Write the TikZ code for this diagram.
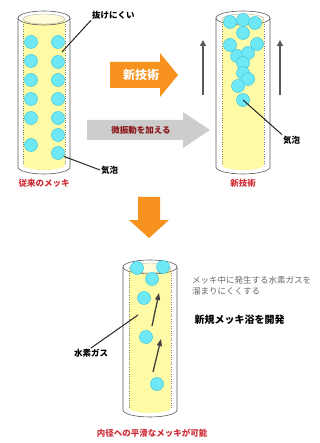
\documentclass[tikz,border=0pt]{standalone}
\usepackage{fontspec}
\setmainfont{Noto Sans CJK JP}
\usetikzlibrary{arrows.meta}

\definecolor{plating}{RGB}{255,250,165}
\definecolor{platingtop}{RGB}{255,252,215}
\definecolor{bubblefill}{RGB}{110,232,245}
\definecolor{bubbleedge}{RGB}{60,200,225}
\definecolor{techorange}{RGB}{247,146,30}
\definecolor{shakegray}{RGB}{205,205,205}
\definecolor{capred}{RGB}{205,45,55}
\definecolor{darkred}{RGB}{140,25,30}

% glass tube with plating liquid: centre x, top y, bottom y, outer and inner half width
\newcommand{\drawtube}[5]{%
  \fill[white] (#1-#4,#2) -- (#1-#4,#3) arc[start angle=180,end angle=0,x radius=#4,y radius=7] -- (#1+#4,#2) -- cycle;
  \fill[plating] (#1-#5,#2) -- (#1-#5,#3-2) arc[start angle=180,end angle=0,x radius=#5,y radius=5] -- (#1+#5,#2) -- cycle;
  \fill[platingtop] (#1,#2+1) ellipse[x radius=#5,y radius=5];
  \draw[gray!60] (#1,#2+1) ellipse[x radius=#5,y radius=5];
  \draw[dotted,gray] (#1-#5,#2+6) -- (#1-#5,#3-2) (#1+#5,#2+6) -- (#1+#5,#3-2);
  \draw[tubeedge] (#1-#4,#2) -- (#1-#4,#3) arc[start angle=180,end angle=0,x radius=#4,y radius=7] -- (#1+#4,#2);
  \draw[tubeedge] (#1,#2) ellipse[x radius=#4,y radius=7];
}

\begin{document}
\begin{tikzpicture}[x=1pt,y=-1pt,
  tubeedge/.style={draw=black!65,line width=0.6pt},
  bubble/.style={circle,fill=bubblefill,draw=bubbleedge,line width=0.5pt,minimum size=13pt,inner sep=0pt},
  note/.style={font=\fontsize{8.5}{11}\selectfont,inner sep=1pt},
  tag/.style={note,font=\fontsize{8.5}{11}\selectfont\bfseries},
  caption/.style={font=\fontsize{8.5}{10}\selectfont\bfseries,text=capred},
  leader/.style={draw=black!85,line width=1pt},
  uparrow/.style={draw=black!65,line width=1.4pt,-{Triangle[length=6pt,width=6pt]}},
  risearrow/.style={draw=black!75,line width=1.3pt,-{Triangle[length=7pt,width=5pt]}}]
\useasboundingbox (0,0) rectangle (320,443);

% conventional plating
\drawtube{44}{18}{167}{26}{21}
\foreach \y [count=\i] in {42,61,80,99,118,145}
  \node[bubble] (l\i) at (31,\y) {};
\foreach \y [count=\i] in {42,62,80,99,118,135,153}
  \node[bubble] (r\i) at (58,\y) {};
\node[tag,anchor=west] (stuck) at (91,15) {抜けにくい};
\coordinate (wall) at (62,52);
\draw[leader] (wall) -- (stuck.south west);
\node[tag,anchor=west] (bub1) at (100,170) {気泡};
\draw[leader] (r7.-30) -- (bub1.west);
\node[caption] (old) at (44,183) {従来のメッキ};

% the two arrows in between
\fill[techorange] (110,62) -- (160,62) -- (160,53) -- (178,75) -- (160,97) -- (160,88) -- (110,88) -- cycle;
\node[font=\fontsize{12}{12}\selectfont\bfseries,text=white] (newtech) at (141,75) {新技術};
\fill[shakegray] (87,120) -- (183,120) -- (183,112) -- (210,130) -- (183,148) -- (183,140) -- (87,140) -- cycle;
\node[font=\fontsize{8.5}{10}\selectfont\bfseries,text=darkred] (shake) at (141,130) {微振動を加える};

% new technique
\draw[uparrow] (203,95) -- (203,40);
\draw[uparrow] (280,95) -- (280,40);
\drawtube{243}{18}{167}{27}{21}
\foreach \x/\y [count=\i] in {230/22,243/20,255/23,243/33,230/45,257/44,237/56,248/53,243/63,243/73,248/79,238/86,243/100}
  \node[bubble] (c\i) at (\x,\y) {};
\node[tag,anchor=west] (bub2) at (282,140) {気泡};
\draw[leader] (c13.center) -- (bub2.north west);
\node[caption] (tech) at (243,183) {新技術};

% result
\fill[techorange] (138,197) -- (160,197) -- (160,220) -- (169,220) -- (149,238) -- (129,220) -- (138,220) -- cycle;
\drawtube{150}{267}{410}{27}{21}
\foreach \x/\y [count=\i] in {137/268,163/267,152/279,144/298,146/337,157/384}
  \node[bubble] (d\i) at (\x,\y) {};
\coordinate (rise1) at (153,372);
\coordinate (top1) at (161,339);
\coordinate (rise2) at (152,326);
\coordinate (top2) at (159,293);
\draw[risearrow] (rise1) -- (top1);
\draw[risearrow] (rise2) -- (top2);
\coordinate (gas) at (138,315);
\node[tag,anchor=north] (h2) at (91,348) {水素ガス};
\draw[leader] (gas) -- (h2.north);
\node[note,anchor=west,align=left,text=black!60] (why) at (191,286) {メッキ中に発生する水素ガスを\\溜まりにくくする};
\node[anchor=west,font=\fontsize{10}{12}\selectfont\bfseries] (bath) at (191,320) {新規メッキ浴を開発};
\node[caption] (smooth) at (152,433) {内径への平滑なメッキが可能};
\end{tikzpicture}
\end{document}
